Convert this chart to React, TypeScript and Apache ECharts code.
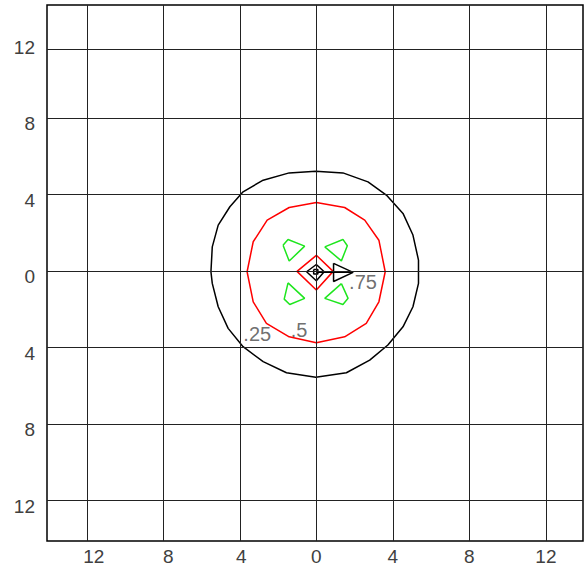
import React, { useEffect, useRef } from "react";
import * as echarts from "echarts";

// x/y tick positions
const xTicks = [-12, -8, -4, 0, 4, 8, 12];
const yTickLabels = [-12, -8, -4, 0, 4, 8, 12];
const xGridLines = [-12, -8, -4, 0, 4, 8, 12];
const yGridLines = [-12, -8, -4, 0, 4, 8, 11.6];

// contour level 0.25 (black)
const contour25 = [
  [-0.03, 5.21], [1.39, 5.12], [2.7, 4.65], [3.66, 3.96], [4.53, 3.0], [5.05, 1.87],
  [5.34, 0.56], [5.34, -0.66], [5.05, -1.88], [4.53, -2.93], [3.74, -3.88], [2.79, -4.67],
  [1.57, -5.33], [-0.03, -5.57], [-1.56, -5.33], [-2.78, -4.75], [-3.83, -3.97], [-4.61, -3.01],
  [-5.13, -1.88], [-5.44, -0.66], [-5.51, -0.05], [-5.44, 1.25], [-5.13, 2.39], [-4.52, 3.35],
  [-3.83, 4.13], [-2.78, 4.74], [-1.42, 5.12],
];
// contour level 0.5 (red)
const contour50 = [
  [0, 3.57], [1.48, 3.31], [2.53, 2.65], [3.27, 1.6], [3.6, -0.05], [3.27, -1.62],
  [2.61, -2.75], [1.48, -3.45], [0, -3.76], [-1.42, -3.45], [-2.61, -2.75], [-3.3, -1.62],
  [-3.62, -0.05], [-3.3, 1.52], [-2.57, 2.65], [-1.42, 3.31],
];
const contour50Inner = [[0, 0.81], [0.88, -0.03], [0, -1.0], [-1.01, -0.03]];
// green blobs
const greenUL = [[-1.74, 1.34], [-1.48, 1.64], [-0.61, 1.29], [-1.42, 0.51]];
const greenUR = [[0.44, 1.25], [1.39, 1.64], [1.62, 1.31], [1.31, 0.52]];
const greenLL = [[-1.48, -0.63], [-0.61, -1.44], [-1.39, -1.76], [-1.68, -1.48]];
const greenLR = [[1.31, -0.67], [1.66, -1.44], [1.39, -1.76], [0.44, -1.44]];
// contour level 0.75 (black)
const contour75Diamond = [[0, 0.33], [0.41, -0.05], [0, -0.52], [-0.51, -0.05]];
const contour75Square = [[-0.14, 0.07], [0.08, 0.07], [0.08, -0.17], [-0.14, -0.17]];
const contour75Stem = [[0, -0.07], [1.92, -0.08]];
const contour75Arrow = [[0.9, 0.39], [1.92, -0.08], [0.9, -0.56]];

// contour labels
const labelTexts = [".25", ".5", ".75"];
const labelX = [-3.09, -0.9, 2.44];
const labelY = [-3.31, -3.1, -0.61];

const closed = (pts: number[][]) => [...pts, pts[0]];

const Y_MIN = -14.13;
const Y_MAX = 13.9;
const LABEL_SHIFT = 0.3; // y-axis labels sit slightly below their grid lines

export default function App() {
  const ref = useRef<HTMLDivElement>(null);
  useEffect(() => {
    if (!ref.current) return;
    const chart = echarts.init(ref.current, undefined, { renderer: "svg" });
    const mk = (data: number[][], color: string, close = true) => ({
      type: "line",
      data: close ? closed(data) : data,
      showSymbol: false,
      symbol: "none",
      silent: true,
      z: 3,
      lineStyle: { color, width: 1.5 },
    });
    const font = "Liberation Sans, Arial, sans-serif";
    const green = "#1ee61e";
    const txt = { fontSize: 19, fontFamily: font, color: "#404040" };
    chart.setOption({
      animation: false,
      grid: {
        left: 47,
        right: 1,
        top: 5,
        bottom: 30,
        show: true,
        borderColor: "#000",
        borderWidth: 1.5,
        backgroundColor: "transparent",
      },
      xAxis: {
        type: "value",
        min: -14.08,
        max: 13.94,
        splitLine: { show: false },
        axisLine: { show: false },
        axisTick: { show: false },
        axisLabel: {
          customValues: xTicks,
          margin: 6,
          ...txt,
          formatter: (v: number) =>
            v === -12 ? "{a|12}" : v === -8 ? "{b|8}" : v === -4 ? "{c|4}" : String(Math.abs(v)),
          rich: {
            a: { padding: [0, 0, 0, 14], ...txt },
            b: { padding: [0, 0, 0, 10], ...txt },
            c: { padding: [0, 0, 0, 3], ...txt },
          },
        },
      },
      yAxis: [
        {
          type: "value",
          min: Y_MIN,
          max: Y_MAX,
          splitLine: { show: false },
          axisLine: { show: false },
          axisTick: { show: false },
          axisLabel: { show: false },
        },
        {
          type: "value",
          position: "left",
          min: Y_MIN + LABEL_SHIFT,
          max: Y_MAX + LABEL_SHIFT,
          splitLine: { show: false },
          axisLine: { show: false },
          axisTick: { show: false },
          axisLabel: {
            customValues: yTickLabels,
            margin: 12,
            ...txt,
            formatter: (v: number) => String(Math.abs(v)),
          },
        },
      ],
      series: [
        {
          type: "line",
          data: [],
          symbol: "none",
          silent: true,
          z: 1,
          markLine: {
            silent: true,
            symbol: ["none", "none"],
            label: { show: false },
            lineStyle: { color: "#222", width: 1, type: "solid" },
            data: [
              ...xGridLines.map((v) => ({ xAxis: v })),
              ...yGridLines.map((v) => ({ yAxis: v })),
            ],
          },
        },
        mk(contour25, "#000"),
        mk(contour50, "#ff0000"),
        mk(contour50Inner, "#ff0000"),
        mk(greenUL, green),
        mk(greenUR, green),
        mk(greenLL, green),
        mk(greenLR, green),
        mk(contour75Diamond, "#000"),
        mk(contour75Square, "#000"),
        mk(contour75Stem, "#000", false),
        mk(contour75Arrow, "#000"),
        {
          type: "scatter",
          silent: true,
          z: 4,
          symbolSize: 1,
          itemStyle: { color: "transparent" },
          data: labelTexts.map((t, i) => ({ value: [labelX[i], labelY[i]], name: t })),
          label: {
            show: true,
            position: "inside",
            formatter: (p: any) => p.name,
            fontSize: 20,
            fontFamily: font,
            color: "#4a4a4a",
          },
        },
      ],
    });
    return () => chart.dispose();
  }, []);
  return (
    <div
      ref={ref}
      style={{ position: "fixed", left: 0, top: 0, width: 584, height: 571, background: "#fff" }}
    />
  );
}
